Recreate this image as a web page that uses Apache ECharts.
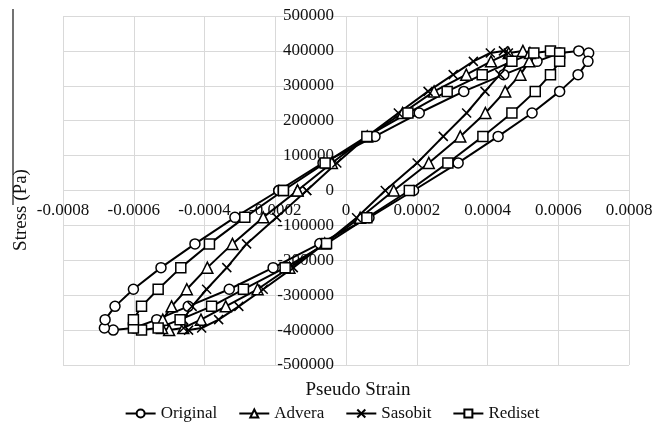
<!DOCTYPE html>
<html>
<head>
<meta charset="utf-8">
<script src="https://cdn.jsdelivr.net/npm/echarts@6/dist/echarts.min.js"></script>
<style>
  html, body { margin: 0; padding: 0; background: #fff; }
  #chart { width: 664px; height: 422px; }
</style>
</head>
<body>
<div id="chart"></div>
<script>
// One loading cycle, traced around the hysteresis loop (last point closes it).
const stress = [0, 79000, 155000, 222000, 284000, 332000, 370000, 394000, 400000,
  394000, 370000, 332000, 284000, 222000, 155000, 79000, 0,
  -78000, -152000, -221000, -283000, -332000, -370000, -394000, -400000,
  -394000, -370000, -332000, -283000, -221000, -153000, -77000, 0];

const strainOriginal = [-0.00019, -0.000065, 0.000082, 0.000207, 0.000333, 0.000446, 0.00054, 0.000604, 0.000658,
  0.000686, 0.000684, 0.000656, 0.000604, 0.000526, 0.00043, 0.000317, 0.000191,
  0.000065, -0.000074, -0.000206, -0.00033, -0.000446, -0.000535, -0.0006, -0.000658,
  -0.000683, -0.000681, -0.000653, -0.000601, -0.000523, -0.000427, -0.000314, -0.00019];

const strainAdvera = [-0.000137, -0.00004, 0.00006, 0.00016, 0.000249, 0.00034, 0.00041, 0.00046, 0.0005,
  0.00052, 0.000518, 0.000493, 0.00045, 0.000394, 0.000323, 0.000234, 0.000135,
  0.00004, -0.00006, -0.00016, -0.00025, -0.00034, -0.00041, -0.00046, -0.0005,
  -0.00052, -0.000518, -0.000493, -0.00045, -0.000392, -0.000321, -0.000234, -0.000137];

const strainSasobit = [-0.000111, -0.000026, 0.00006, 0.000148, 0.000232, 0.000303, 0.00036, 0.000408, 0.000445,
  0.000459, 0.00046, 0.000435, 0.000393, 0.000341, 0.000275, 0.000201, 0.000111,
  0.00003, -0.00006, -0.000149, -0.000234, -0.000303, -0.00036, -0.000408, -0.000445,
  -0.000459, -0.00046, -0.000435, -0.000394, -0.000337, -0.000281, -0.000196, -0.000111];

const strainRediset = [-0.000177, -0.000059, 0.000059, 0.000175, 0.000286, 0.000385, 0.000469, 0.000531, 0.000578,
  0.000604, 0.000604, 0.000578, 0.000535, 0.000469, 0.000387, 0.000288, 0.000179,
  0.000059, -0.000055, -0.000172, -0.00029, -0.00038, -0.000469, -0.000531, -0.000578,
  -0.000601, -0.000601, -0.000578, -0.000531, -0.000467, -0.000386, -0.000286, -0.000177];

const seriesNames = ['Original', 'Advera', 'Sasobit', 'Rediset'];
const seriesStrains = [strainOriginal, strainAdvera, strainSasobit, strainRediset];
const seriesSymbols = ['circle', 'triangle', 'path://M0,0 L10,10 M10,0 L0,10', 'rect'];
const seriesSymbolSizes = [10, 11, 9, 10];

const X_MIN = -0.0008, X_MAX = 0.0008;
const Y_MIN = -500000, Y_MAX = 500000;

const FONT = '"Liberation Serif", "Times New Roman", serif';

const GRID = { left: 63, right: 35, top: 16, bottom: 57 };
const W = 664, H = 422;
const plotW = W - GRID.left - GRID.right;
const plotH = H - GRID.top - GRID.bottom;
// Shift each axis inward so it crosses the other at zero.
const xAxisShift = plotH * (0 - Y_MIN) / (Y_MAX - Y_MIN);
const yAxisShift = plotW * (0 - X_MIN) / (X_MAX - X_MIN);

function pairs(xs, ys) {
  return xs.map((x, i) => [x, ys[i]]);
}

const chart = echarts.init(document.getElementById('chart'), null, { renderer: 'canvas' });

chart.setOption({
  animation: false,
  backgroundColor: '#fff',
  grid: Object.assign({ containLabel: false }, GRID),
  xAxis: {
    type: 'value',
    position: 'bottom',
    offset: -xAxisShift,
    min: X_MIN, max: X_MAX, interval: 0.0002,
    axisLine: { show: false, onZero: false },
    axisTick: { show: false },
    splitLine: { show: true, lineStyle: { color: '#d9d9d9', width: 1 } },
    axisLabel: {
      margin: 12,
      fontFamily: FONT, fontSize: 17, color: '#111',
      formatter: v => Math.abs(v) < 1e-12 ? '0' : v.toFixed(4)
    }
  },
  yAxis: {
    type: 'value',
    position: 'left',
    offset: -yAxisShift,
    min: Y_MIN, max: Y_MAX, interval: 100000,
    axisLine: { show: false, onZero: false },
    axisTick: { show: false },
    splitLine: { show: true, lineStyle: { color: '#d9d9d9', width: 1 } },
    axisLabel: {
      margin: 12,
      fontFamily: FONT, fontSize: 17, color: '#111',
      formatter: v => String(Math.round(v))
    }
  },
  legend: {
    data: seriesNames,
    left: 'center',
    top: 400,
    itemWidth: 30,
    itemHeight: 10,
    itemGap: 21,
    textStyle: { fontFamily: FONT, fontSize: 17, color: '#111' }
  },
  graphic: [
    {
      type: 'line',
      shape: { x1: 13, y1: 9, x2: 13, y2: 205 },
      style: { stroke: '#444', lineWidth: 1.5 }
    },
    {
      type: 'text',
      x: 21, y: 210,
      rotation: Math.PI / 2,
      style: {
        text: 'Stress (Pa)', font: '19px ' + FONT, fill: '#111',
        align: 'center', verticalAlign: 'middle'
      }
    },
    {
      type: 'text',
      x: 358, y: 390,
      style: {
        text: 'Pseudo Strain', font: '19px ' + FONT, fill: '#111',
        align: 'center', verticalAlign: 'middle'
      }
    }
  ],
  series: seriesNames.map((name, k) => ({
    name: name,
    type: 'line',
    data: pairs(seriesStrains[k], stress),
    symbol: seriesSymbols[k],
    symbolSize: seriesSymbolSizes[k],
    showAllSymbol: true,
    lineStyle: { color: '#000', width: 2 },
    itemStyle: { color: '#fff', borderColor: '#000', borderWidth: 1.5 },
    emphasis: { disabled: true }
  }))
});
</script>
</body>
</html>
